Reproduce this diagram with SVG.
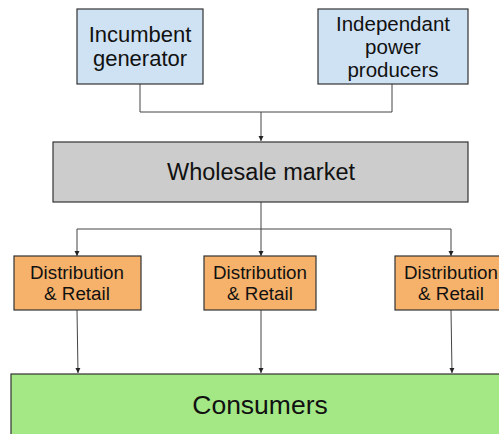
<svg xmlns="http://www.w3.org/2000/svg" width="499" height="434" viewBox="0 0 499 434">
<defs>
<marker id="ah" markerWidth="6" markerHeight="6" refX="5" refY="3" orient="auto" markerUnits="userSpaceOnUse">
<path d="M0,0.5 L5,3 L0,5.5 Z" fill="#222"/>
</marker>
<style>
.box{stroke:#333;stroke-width:1.2}
.blue{fill:#cfe2f3}
.gray{fill:#cccccc}
.orange{fill:#f6b26b}
.green{fill:#a4e886}
text{font-family:"Liberation Sans",Arial,sans-serif;fill:#111;text-anchor:middle}
.c{fill:none;stroke:#444;stroke-width:1}
</style>
</defs>
<rect width="499" height="434" fill="#fff"/>
<g id="connectors">
<path class="c" d="M140,84 V112 H392 V84"/>
<path class="c" d="M261,112 V141" marker-end="url(#ah)"/>
<path class="c" d="M261,202 V229"/>
<path class="c" d="M77,229 H451"/>
<path class="c" d="M77,229 V256" marker-end="url(#ah)"/>
<path class="c" d="M261,229 V256" marker-end="url(#ah)"/>
<path class="c" d="M451,229 V256" marker-end="url(#ah)"/>
<path class="c" d="M77,310 L78,373" marker-end="url(#ah)"/>
<path class="c" d="M261,310 V373" marker-end="url(#ah)"/>
<path class="c" d="M451,310 L452,373" marker-end="url(#ah)"/>
</g>
<g id="incumbent">
<rect class="box blue" x="77" y="9" width="126" height="75"/>
<text x="140" y="42" font-size="22">Incumbent</text>
<text x="140" y="66" font-size="22">generator</text>
</g>
<g id="ipp">
<rect class="box blue" x="318" y="9" width="150" height="75"/>
<text x="393" y="31" font-size="20.5">Independant</text>
<text x="393" y="54" font-size="20.5">power</text>
<text x="393" y="77" font-size="20.5">producers</text>
</g>
<g id="wholesale">
<rect class="box gray" x="53" y="142" width="415" height="60"/>
<text x="261" y="180" font-size="23.5">Wholesale market</text>
</g>
<g id="dist1">
<rect class="box orange" x="14" y="256" width="127" height="54"/>
<text x="77" y="279" font-size="18.8">Distribution</text>
<text x="77" y="300" font-size="18.8">&amp; Retail</text>
</g>
<g id="dist2">
<rect class="box orange" x="204" y="256" width="112" height="54"/>
<text x="260" y="279" font-size="18.8">Distribution</text>
<text x="260" y="300" font-size="18.8">&amp; Retail</text>
</g>
<g id="dist3">
<rect class="box orange" x="395" y="256" width="110" height="54"/>
<text x="451" y="279" font-size="18.8">Distribution</text>
<text x="451" y="300" font-size="18.8">&amp; Retail</text>
</g>
<g id="consumers">
<rect class="box green" x="11" y="374" width="494" height="70"/>
<text x="260" y="414" font-size="26.5">Consumers</text>
</g>
</svg>
